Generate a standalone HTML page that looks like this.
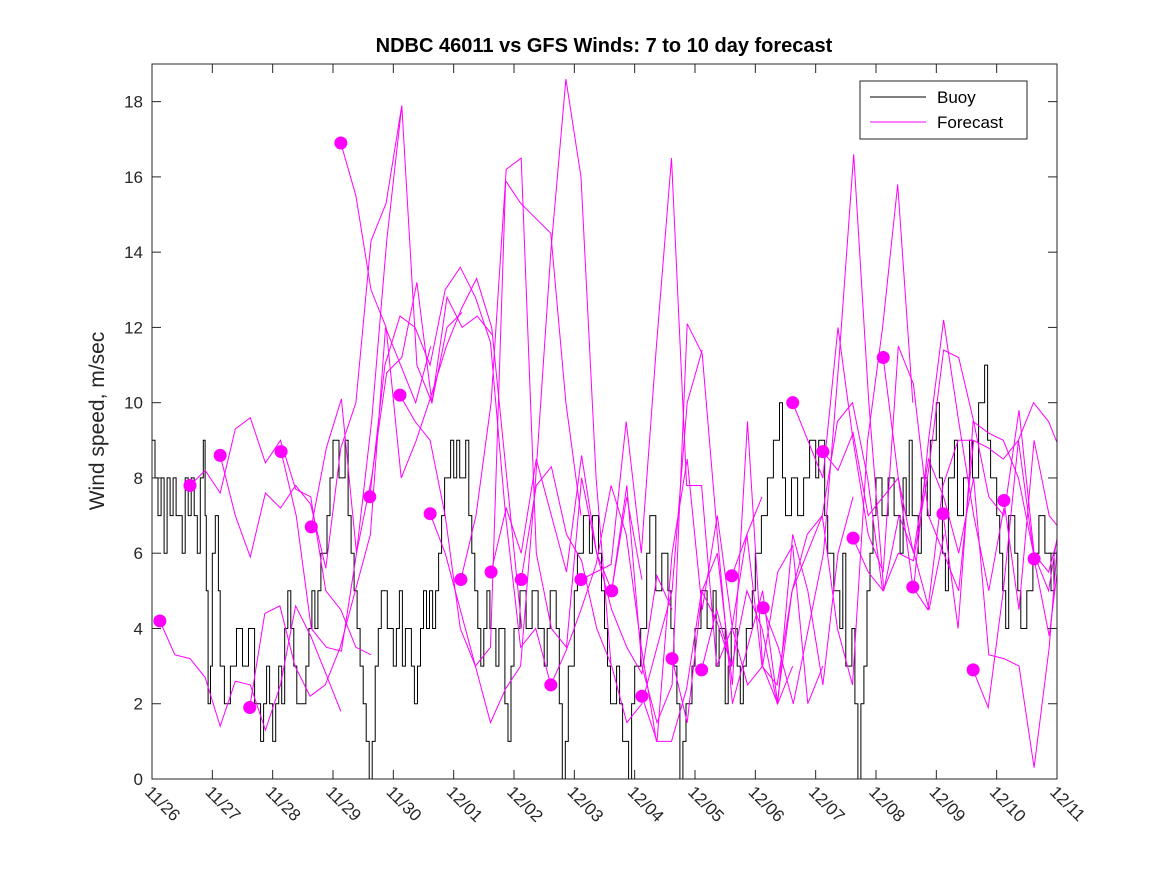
<!DOCTYPE html>
<html><head><meta charset="utf-8"><style>
body{margin:0;background:#fff;}
svg{display:block;font-family:"Liberation Sans","DejaVu Sans",sans-serif;}
</style></head><body>
<svg id="chart" width="1167" height="875" xmlns="http://www.w3.org/2000/svg">
<rect x="0" y="0" width="1167" height="875" fill="#fff"/>
<text x="604" y="52" text-anchor="middle" font-size="20" font-weight="bold" fill="#000">NDBC 46011 vs GFS Winds: 7 to 10 day forecast</text>
<text transform="translate(104,421) rotate(-90)" text-anchor="middle" font-size="21" fill="#262626">Wind speed, m/sec</text>
<defs><clipPath id="pc"><rect x="152" y="64" width="905" height="715"/></clipPath></defs>
<g id="plot" clip-path="url(#pc)"></g>
<g id="axes"></g>
<g>
<rect x="860" y="81" width="167" height="58" fill="#fff" stroke="#262626" stroke-width="1"/>
<line x1="870" y1="97" x2="926" y2="97" stroke="#000" stroke-width="1"/>
<text x="937" y="103" font-size="17" fill="#000">Buoy</text>
<line x1="870" y1="122" x2="926" y2="122" stroke="#f0f" stroke-width="1"/>
<text x="937" y="128" font-size="17" fill="#000">Forecast</text>
</g>
</svg>
<script>
const xTickLabels=["11/26","11/27","11/28","11/29","11/30","12/01","12/02","12/03","12/04","12/05","12/06","12/07","12/08","12/09","12/10","12/11"];
const yTicks=[0,2,4,6,8,10,12,14,16,18];
// buoy observation times (days since 11/26) and wind speed
const buoyDay=[0,0.05,0.1,0.15,0.2,0.25,0.3,0.35,0.4,0.5,0.55,0.6,0.65,0.7,0.75,0.8,0.85,0.88,0.9,0.93,0.97,1.0,1.05,1.1,1.13,1.2,1.3,1.4,1.5,1.6,1.7,1.8,1.85,1.9,1.95,2.0,2.05,2.1,2.15,2.2,2.25,2.3,2.35,2.4,2.55,2.6,2.65,2.7,2.75,2.8,2.9,2.95,3.0,3.1,3.2,3.25,3.3,3.35,3.4,3.45,3.5,3.55,3.6,3.65,3.7,3.75,3.8,3.9,4.0,4.05,4.1,4.15,4.2,4.3,4.35,4.4,4.45,4.5,4.55,4.6,4.65,4.7,4.75,4.8,4.85,4.95,5.0,5.05,5.1,5.2,5.25,5.3,5.35,5.4,5.45,5.5,5.55,5.6,5.7,5.75,5.85,5.9,5.95,6.0,6.1,6.2,6.3,6.4,6.5,6.55,6.6,6.7,6.75,6.8,6.85,6.9,7.0,7.05,7.15,7.25,7.3,7.4,7.45,7.5,7.55,7.6,7.7,7.75,7.8,7.9,7.95,8.0,8.1,8.2,8.25,8.35,8.45,8.55,8.6,8.65,8.7,8.75,8.8,8.85,8.95,9.0,9.1,9.2,9.3,9.35,9.4,9.5,9.55,9.6,9.7,9.75,9.8,9.85,9.95,10.0,10.1,10.2,10.3,10.4,10.45,10.5,10.6,10.7,10.8,10.9,11.0,11.05,11.15,11.2,11.3,11.4,11.45,11.5,11.6,11.65,11.7,11.75,11.8,11.85,11.9,11.95,12.0,12.1,12.2,12.3,12.4,12.45,12.5,12.55,12.6,12.7,12.75,12.85,12.9,13.0,13.05,13.1,13.15,13.2,13.3,13.35,13.45,13.55,13.6,13.7,13.8,13.85,13.9,14.0,14.05,14.1,14.15,14.2,14.3,14.35,14.4,14.5,14.6,14.7,14.8,14.9,14.95];
const buoyValues=[9,8,7,8,6,8,7,8,7,6,8,7,8,7,6,8,9,7,5,2,3,6,7,5,3,2,3,4,3,4,2,1,2,3,2,1,2,3,2,4,5,4,3,2,3,4,5,4,5,6,7,8,9,8,9,7,6,5,4,3,2,1,0,1,3,4,5,4,3,4,5,3,4,3,2,3,4,5,4,5,4,5,6,7,8,9,8,9,8,9,7,6,5,4,3,4,5,4,3,4,2,1,3,4,5,4,5,4,3,4,5,4,2,0,1,3,5,6,7,6,7,6,5,4,3,2,3,2,1,0,2,3,4,6,7,5,6,5,4,3,2,0,1,2,3,4,5,4,5,3,4,2,3,4,3,2,3,4,5,6,7,8,9,10,8,7,8,7,8,9,8,9,7,6,5,4,6,3,4,2,0,2,3,5,6,7,8,7,8,7,6,8,7,9,7,6,8,7,9,10,8,6,5,8,9,7,8,9,8,10,11,9,8,7,6,5,4,7,6,5,4,5,6,7,6,5,6];
// forecast start days (since 11/26) and 6-hourly forecast values
const forecastStart=[0.13,0.63,1.13,1.62,2.14,2.64,3.13,3.61,4.11,4.61,5.12,5.62,6.12,6.61,7.11,7.62,8.12,8.62,9.11,9.61,10.13,10.62,11.12,11.62,12.12,12.61,13.11,13.61,14.12,14.62];
const forecastValues=[
[4.2,3.3,3.2,2.7,1.4,2.6,2.5,1.3,2.5,4.6,3.8,2.8,1.8],
[7.8,8.2,7.6,9.3,9.6,8.4,9.0,7.7,7.5,5.0,4.5,3.5,3.3],
[8.6,7.0,5.9,7.6,7.2,7.8,7.3,5.6,8.8,10.0,14.3,15.3,17.8],
[1.9,4.4,4.6,3.0,2.2,2.5,3.5,5.0,6.5,12.0,11.0,10.0,11.5],
[8.7,7.0,4.0,3.5,3.4,6.0,9.5,14.3,17.9,11.0,10.0,12.0,12.4],
[6.7,8.8,10.1,6.0,8.0,10.8,11.2,13.2,10.0,12.8,12.0,12.3,11.8],
[16.9,15.5,13.0,12.0,8.0,9.0,10.2,11.5,12.5,13.3,12.0,8.0,4.0],
[7.5,11.0,12.3,12.0,11.0,13.0,13.6,12.8,11.6,7.0,3.5,4.0,2.5],
[10.2,9.5,9.0,7.0,4.0,3.0,3.5,15.9,15.3,14.9,14.5,10.0,7.0],
[7.05,6.0,4.5,3.0,1.5,2.4,3.0,8.0,14.0,18.6,16.0,8.0,3.0],
[5.3,7.0,10.0,16.2,16.5,6.0,4.0,3.5,8.0,6.0,5.0,7.5,5.3],
[5.5,7.2,6.0,8.5,7.0,5.5,8.6,6.0,4.5,3.5,2.8,5.4,4.5],
[5.3,7.8,8.3,6.5,5.8,4.0,3.0,1.5,2.0,3.5,5.0,10.0,11.4],
[2.5,3.4,4.5,5.7,7.8,6.5,3.5,1.0,1.0,2.4,5.0,4.2,3.0],
[5.3,5.5,5.7,9.5,6.0,11.5,16.5,7.8,7.8,3.0,4.0,6.5,7.5],
[5.0,7.8,3.0,1.5,2.5,12.1,11.3,6.5,2.0,3.5,5.0,2.0,3.0],
[2.2,1.0,6.0,8.5,4.5,7.0,4.0,2.5,3.0,5.5,6.2,2.0,3.0],
[3.2,1.5,5.0,6.0,2.5,9.5,3.0,2.0,6.5,5.0,2.5,6.0,7.5],
[2.9,4.5,3.0,5.0,4.0,2.0,5.0,6.5,7.0,9.5,10.0,8.0,5.0],
[5.4,6.5,3.0,2.5,5.0,6.0,7.0,4.0,2.5,9.0,12.0,15.8,10.0],
[4.55,3.5,2.0,4.0,6.0,11.0,16.6,10.0,5.0,7.0,6.0,4.5,6.5],
[10.0,9.0,8.0,12.0,9.0,6.5,5.5,11.5,10.5,7.0,6.0,5.0,9.0],
[8.7,8.2,9.2,7.0,7.5,8.0,5.0,9.0,12.2,9.5,7.0,5.0,7.2],
[6.4,5.5,5.0,6.0,5.8,8.2,11.4,11.2,9.5,7.5,7.0,9.8,6.0],
[11.2,8.0,6.0,8.5,7.5,6.0,8.0,3.3,3.2,3.0,0.3,3.5,8.5],
[5.1,4.5,7.8,9.0,9.0,8.8,8.5,9.0,6.0,5.5,7.0,8.0,6.5],
[7.05,4.0,9.5,9.2,9.0,8.0,6.0,5.0,7.5,8.0,6.5,7.0,7.5],
[2.9,1.9,5.0,9.0,10.0,9.5,8.5,7.5,7.0,6.0,5.0,7.5,5.5],
[7.4,4.5,9.0,7.0,6.5,8.0,7.0,6.0,8.0,9.0,7.0,8.0,7.0],
[5.85,3.8,7.0,8.5,9.8,7.5,6.0,8.0,7.0,7.5,6.0,7.0,8.0]];
const X0=152,X1=1057,Y0=779,Y1=64,XMAX=15,YMAX=19;
function xs(d){return X0+(X1-X0)*d/XMAX;}
function ys(v){return Y0-(Y0-Y1)*v/YMAX;}
const NS="http://www.w3.org/2000/svg";
const plot=document.getElementById('plot'),axes=document.getElementById('axes');
function mk(tag,at,parent){const e=document.createElementNS(NS,tag);for(const k in at)e.setAttribute(k,at[k]);parent.appendChild(e);return e;}
// buoy step line
let d="";
buoyValues.forEach((v,i)=>{const xa=xs(buoyDay[i]),xb=xs(i+1<buoyDay.length?buoyDay[i+1]:XMAX),y=ys(v);d+=(i?"L":"M")+xa.toFixed(1)+","+y.toFixed(1)+"L"+xb.toFixed(1)+","+y.toFixed(1);});
const bl=mk('path',{d:d,fill:"none",stroke:"#000","stroke-width":1},plot);


// forecasts
forecastValues.forEach((vals,k)=>{
  const t0=forecastStart[k];
  const pts=vals.map((v,j)=>xs(t0+0.25*j).toFixed(1)+","+ys(v).toFixed(1)).join(" ");
  const pl=mk('polyline',{points:pts,fill:"none",stroke:"#f0f","stroke-width":1},plot);
  
  
});
forecastValues.forEach((vals,k)=>{
  const c=mk('circle',{cx:xs(forecastStart[k]),cy:ys(vals[0]),r:6.5,fill:"#f0f"},plot);
  
  
});
// axes box
const box=mk('rect',{x:X0,y:Y1,width:X1-X0,height:Y0-Y1,fill:"none",stroke:"#262626","stroke-width":1},axes);


yTicks.forEach(v=>{
  const y=ys(v);
  mk('line',{x1:X0,y1:y,x2:X0+9,y2:y,stroke:"#262626"},axes);
  mk('line',{x1:X1,y1:y,x2:X1-9,y2:y,stroke:"#262626"},axes);
  const t=mk('text',{x:X0-9,y:y+6,"text-anchor":"end","font-size":17,fill:"#262626"},axes);
  t.textContent=v;
  
  
});
xTickLabels.forEach((lab,i)=>{
  const x=xs(i);
  mk('line',{x1:x,y1:Y0,x2:x,y2:Y0-9,stroke:"#262626"},axes);
  mk('line',{x1:x,y1:Y1,x2:x,y2:Y1+9,stroke:"#262626"},axes);
  const t=mk('text',{transform:"translate("+(x-8)+","+(Y0+14)+") rotate(45)","font-size":17,fill:"#262626"},axes);
  t.textContent=lab;
  
  
});
</script>
</body></html>
